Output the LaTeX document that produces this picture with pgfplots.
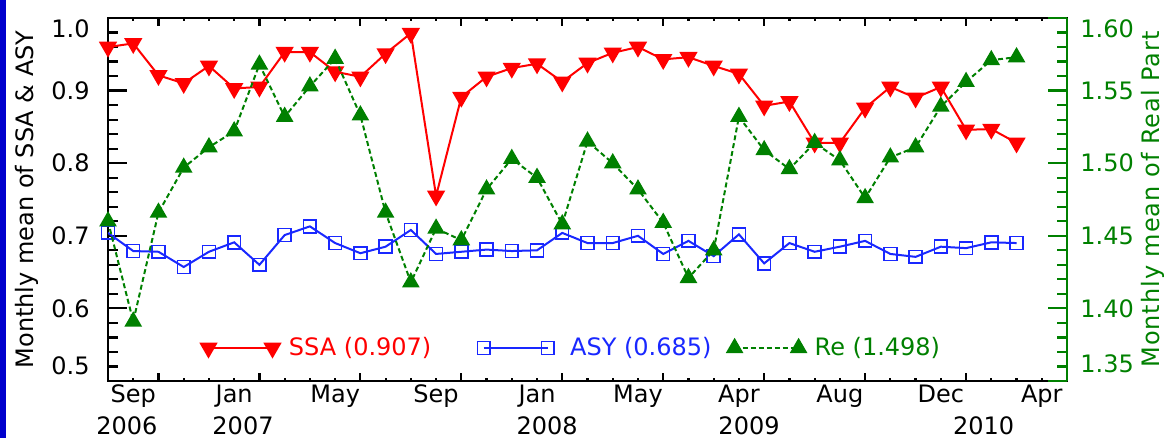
\documentclass[border=0pt]{standalone}
\usepackage{fontspec}
\setmainfont{DejaVu Sans}
\usepackage{pgfplots}
\usepackage{pgfplotstable}
\pgfplotsset{compat=1.18}

\definecolor{ssared}{RGB}{255,0,0}
\definecolor{asyblue}{RGB}{25,40,255}
\definecolor{regreen}{RGB}{0,128,0}
\definecolor{slideblue}{RGB}{0,0,205}

% monthly means: single scattering albedo, asymmetry, real refractive index
\pgfplotstableread{
idx ssa   asy   re
0   0.960 0.704 1.460
1   0.965 0.679 1.391
2   0.921 0.678 1.466
3   0.910 0.657 1.497
4   0.934 0.678 1.511
5   0.903 0.691 1.522
6   0.905 0.660 1.568
7   0.953 0.701 1.532
8   0.953 0.713 1.553
9   0.926 0.690 1.572
10  0.919 0.676 1.533
11  0.951 0.685 1.466
12  0.979 0.708 1.418
13  0.755 0.675 1.455
14  0.891 0.678 1.447
15  0.919 0.681 1.482
16  0.931 0.679 1.503
17  0.937 0.680 1.490
18  0.912 0.704 1.458
19  0.938 0.690 1.515
20  0.952 0.690 1.500
21  0.960 0.700 1.482
22  0.943 0.675 1.459
23  0.946 0.693 1.421
24  0.934 0.672 1.440
25  0.923 0.702 1.532
26  0.879 0.662 1.509
27  0.885 0.690 1.496
28  0.828 0.678 1.514
29  0.828 0.685 1.502
30  0.876 0.693 1.476
31  0.905 0.675 1.504
32  0.890 0.671 1.511
33  0.905 0.685 1.539
34  0.846 0.683 1.556
35  0.847 0.691 1.571
36  0.828 0.690 1.573
}\monthly

\pgfplotsset{
  frame/.style={
    scale only axis, width=479.5pt, height=181.5pt,
    xmin=0, xmax=38,
    clip mode=individual,
    tick align=inside,
    axis line style={line width=1.2pt},
    every tick/.style={line width=1.1pt},
    major tick length=9.5pt, minor tick length=5pt,
    minor y tick num=4,
  },
  endlegend/.style={
    legend image code/.code={
      \draw[mark repeat=2, mark phase=1, ##1]
        plot coordinates {(0pt,0pt) (16pt,0pt) (32pt,0pt)};
    }
  },
}

\begin{document}
\fontsize{12}{14}\selectfont
\begin{tikzpicture}
\path[use as bounding box] (-54pt,-28.5pt) rectangle (531.5pt,190.5pt);
\fill[slideblue] (-54pt,-28.5pt) rectangle (-51pt,190.5pt);

\begin{axis}[frame,
  ymin=0.5, ymax=1.0,
  ytick={0.5,0.6,0.7,0.8,0.9,1.0},
  yticklabels={\raisebox{7.5pt}{0.5},0.6,0.7,0.8,0.9,\raisebox{-5.3pt}{1.0}},
  ytick pos=left,
  yticklabel style={anchor=base east, inner sep=0pt, xshift=-9pt, yshift=-4.4pt},
  xtick={2,6,...,34}, xticklabels={},
  minor xtick={0,...,38},
  xtick pos=both,
  xtick style={/pgfplots/major tick length=4pt, /pgfplots/minor tick length=1.6pt},
  extra x ticks={1,5,...,37},
  extra x tick labels={Sep,Jan,May,Sep,Jan,May,Apr,Aug,Dec,Apr},
  extra x tick style={tick style={draw=none},
    xticklabel style={anchor=base, inner sep=0pt, yshift=-11pt}},
  endlegend,
  legend columns=3,
  legend style={at={(axis description cs:0.0966,0.091)}, anchor=west,
    draw=none, fill=none, inner sep=0pt,
    /tikz/column 1/.style={column sep=2.5pt},
    /tikz/column 2/.style={column sep=21pt},
    /tikz/column 3/.style={column sep=6pt},
    /tikz/column 4/.style={column sep=6pt},
    /tikz/column 5/.style={column sep=2.5pt}},
  legend cell align=left,
]
\addplot[ssared, line width=1pt, mark=triangle*, mark size=4.3pt,
  mark options={rotate=180, fill=ssared}]
  table[x=idx, y=ssa] {\monthly};
\addlegendentry{\textcolor{ssared}{SSA (0.907)}}
\addplot[asyblue, line width=1pt, mark=square, mark size=3.2pt,
  mark options={line width=0.8pt}]
  table[x=idx, y=asy] {\monthly};
\addlegendentry{\textcolor{asyblue}{ASY (0.685)}}
\addlegendimage{regreen, line width=1pt, dash pattern=on 2.5pt off 1.5pt,
  mark=triangle*, mark size=4.1pt, mark options={solid, fill=regreen}}
\addlegendentry{\textcolor{regreen}{Re (1.498)}}

\node[anchor=base] at (axis cs:0.75,0.5) [yshift=-27pt] {2006};
\node[anchor=base] at (axis cs:5.35,0.5) [yshift=-27pt] {2007};
\node[anchor=base] at (axis cs:17.4,0.5) [yshift=-27pt] {2008};
\node[anchor=base] at (axis cs:25.4,0.5) [yshift=-27pt] {2009};
\node[anchor=base] at (axis cs:34.7,0.5) [yshift=-27pt] {2010};
\node[rotate=90, anchor=center] at (axis description cs:-0.0845,0.5)
  {Monthly mean of SSA \& ASY};
\end{axis}

\begin{axis}[frame,
  ymin=1.35, ymax=1.60,
  axis x line=none,
  axis y line*=right,
  y axis line style={regreen, -},
  tick align=inside,
  ytick={1.35,1.40,1.45,1.50,1.55,1.60},
  yticklabels={\raisebox{8.5pt}{1.35},1.40,1.45,1.50,1.55,\raisebox{-5.3pt}{1.60}},
  ytick style={regreen},
  yticklabel style={regreen, anchor=base west, inner sep=0pt, xshift=6.5pt, yshift=-4.4pt},
]
\addplot[regreen, line width=1pt, dash pattern=on 2.5pt off 1.5pt,
  mark=triangle*, mark size=4.1pt, mark options={solid, fill=regreen}]
  table[x=idx, y=re] {\monthly};
\node[rotate=90, anchor=center, text=regreen] at (axis description cs:1.0897,0.5)
  {\addfontfeatures{LetterSpace=4}Monthly mean of Real Part};
\end{axis}
\end{tikzpicture}
\end{document}
